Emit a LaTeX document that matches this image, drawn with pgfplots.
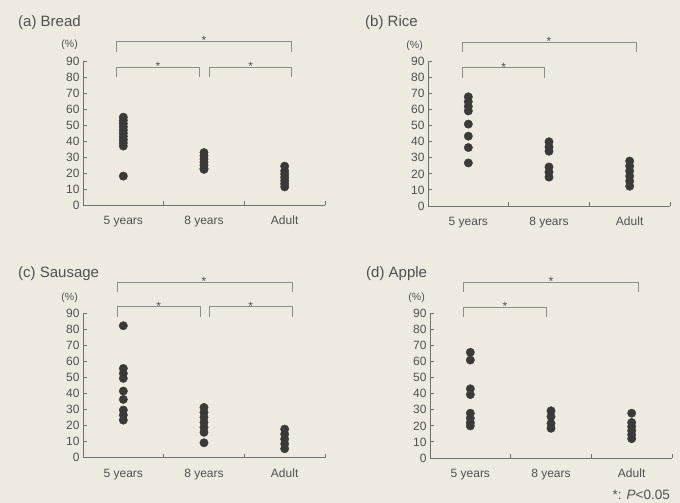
\documentclass[border=0pt]{standalone}
\usepackage{fontspec}
\setmainfont{Liberation Sans}
\usepackage{pgfplots}
\pgfplotsset{compat=1.18}
\definecolor{bg}{HTML}{EEEAE0}
\definecolor{txt}{HTML}{505050}
\definecolor{dot}{HTML}{3A3A3A}
\definecolor{ax}{HTML}{707070}
\definecolor{br}{HTML}{8C8C8C}
\pgfplotsset{panel/.style={
  scale only axis, width=242pt, height=144.5pt,
  xmin=0, xmax=3, ymin=0, ymax=90,
  axis x line=bottom, axis y line=left,
  axis line style={ax, line width=0.9pt, -},
  clip=false,
  xtick={1,2,3}, xticklabels={},
  extra x ticks={0.5,1.5,2.5}, extra x tick labels={5 years,8 years,Adult},
  extra x tick style={major tick length=0pt, tick label style={text height=1.6ex, text depth=0.5ex, yshift=-7.5pt}},
  ytick={0,10,...,90}, major tick length=4pt, tick align=inside,
  tick style={ax, line width=0.9pt},
  ticklabel style={font=\fontsize{12}{12}\selectfont, text=txt},
  /pgf/number format/assume math mode=true,
  anchor=south west,
},
dots/.style={only marks, mark=*, mark size=4.2pt, color=dot, mark options={draw=dot, fill=dot}},
}
\tikzset{
brk/.style={br, line width=1pt},
ast/.style={text=txt, font=\fontsize{12}{12}\selectfont, inner sep=0pt, anchor=base, yshift=-3.5pt},
pct/.style={anchor=east, font=\fontsize{10.5}{10.5}\selectfont, text=txt, inner sep=1pt, xshift=-4pt},
ttl/.style={anchor=west, font=\fontsize{15}{15}\selectfont, text=txt, inner sep=0pt}
}
\begin{document}
\begin{tikzpicture}
\fill[bg] (0,0) rectangle (680pt,503pt);
% (a) Bread
\begin{axis}[panel, at={(83pt,297.5pt)}]
\addplot[dots] coordinates {(0.5,55) (0.5,53) (0.5,51) (0.5,49) (0.5,47) (0.5,45) (0.5,43) (0.5,41) (0.5,39) (0.5,37) (0.5,18.3)};
\addplot[dots] coordinates {(1.5,33) (1.5,31) (1.5,29) (1.5,27) (1.5,25) (1.5,23) (1.5,22.5)};
\addplot[dots] coordinates {(2.5,24.5) (2.5,21.5) (2.5,19.5) (2.5,17.5) (2.5,15.5) (2.5,13.5) (2.5,11.6)};
\draw[brk] (axis cs:0.42,95.6) -- (axis cs:0.42,102.4) -- (axis cs:2.59,102.4) -- (axis cs:2.59,95.6);
\draw[brk] (axis cs:0.42,80) -- (axis cs:0.42,86.2) -- (axis cs:1.45,86.2) -- (axis cs:1.45,80);
\draw[brk] (axis cs:1.57,80) -- (axis cs:1.57,86.2) -- (axis cs:2.59,86.2) -- (axis cs:2.59,80);
\node[ast] at (axis cs:1.5,102.4) {*};
\node[ast] at (axis cs:0.93,86.2) {*};
\node[ast] at (axis cs:2.08,86.2) {*};
\node[pct] at (axis cs:0,100) {(\%)};
\end{axis}
% (b) Rice
\begin{axis}[panel, at={(428pt,297pt)}]
\addplot[dots] coordinates {(0.5,68) (0.5,65) (0.5,62) (0.5,59.2) (0.5,51) (0.5,43.5) (0.5,36.4) (0.5,26.8)};
\addplot[dots] coordinates {(1.5,40) (1.5,36.8) (1.5,34.1) (1.5,24.3) (1.5,21.1) (1.5,18)};
\addplot[dots] coordinates {(2.5,28) (2.5,24.9) (2.5,21.8) (2.5,18.6) (2.5,15.5) (2.5,12.3)};
\draw[brk] (axis cs:0.43,96) -- (axis cs:0.43,102) -- (axis cs:2.59,102) -- (axis cs:2.59,96);
\draw[brk] (axis cs:0.43,80) -- (axis cs:0.43,86.2) -- (axis cs:1.45,86.2) -- (axis cs:1.45,80);
\node[ast] at (axis cs:1.5,102) {*};
\node[ast] at (axis cs:0.94,86.2) {*};
\node[pct] at (axis cs:0,100) {(\%)};
\end{axis}
% (c) Sausage
\begin{axis}[panel, at={(83pt,45.3pt)}]
\addplot[dots] coordinates {(0.5,82.2) (0.5,55.6) (0.5,52.5) (0.5,49.4) (0.5,41.5) (0.5,36.3) (0.5,29.7) (0.5,26.6) (0.5,23.4)};
\addplot[dots] coordinates {(1.5,31.3) (1.5,28.2) (1.5,25.1) (1.5,22) (1.5,18.9) (1.5,15.8) (1.5,9.3)};
\addplot[dots] coordinates {(2.5,17.8) (2.5,14.7) (2.5,11.6) (2.5,8.6) (2.5,5.6)};
\draw[brk] (axis cs:0.43,103.2) -- (axis cs:0.43,109.4) -- (axis cs:2.6,109.4) -- (axis cs:2.6,103.2);
\draw[brk] (axis cs:0.43,87.7) -- (axis cs:0.43,93.9) -- (axis cs:1.46,93.9) -- (axis cs:1.46,87.7);
\draw[brk] (axis cs:1.57,87.7) -- (axis cs:1.57,93.9) -- (axis cs:2.6,93.9) -- (axis cs:2.6,87.7);
\node[ast] at (axis cs:1.5,109.4) {*};
\node[ast] at (axis cs:0.94,93.9) {*};
\node[ast] at (axis cs:2.08,93.9) {*};
\node[pct] at (axis cs:0,99.5) {(\%)};
\end{axis}
% (d) Apple
\begin{axis}[panel, at={(430pt,45pt)}]
\addplot[dots] coordinates {(0.5,65.8) (0.5,61) (0.5,43.1) (0.5,39.5) (0.5,27.9) (0.5,24.8) (0.5,22) (0.5,20)};
\addplot[dots] coordinates {(1.5,29.4) (1.5,25.8) (1.5,21.5) (1.5,18.5)};
\addplot[dots] coordinates {(2.5,27.9) (2.5,22.1) (2.5,19.5) (2.5,17) (2.5,14.5) (2.5,12)};
\draw[brk] (axis cs:0.41,103.4) -- (axis cs:0.41,109.6) -- (axis cs:2.58,109.6) -- (axis cs:2.58,103.4);
\draw[brk] (axis cs:0.41,87.8) -- (axis cs:0.41,94) -- (axis cs:1.44,94) -- (axis cs:1.44,87.8);
\node[ast] at (axis cs:1.5,109.6) {*};
\node[ast] at (axis cs:0.93,94) {*};
\node[pct] at (axis cs:0,99.5) {(\%)};
\end{axis}
\node[ttl] at (18pt,480pt) {(a) Bread};
\node[ttl] at (365pt,480pt) {(b) Rice};
\node[ttl] at (18pt,229pt) {(c) Sausage};
\node[ttl] at (366pt,229pt) {(d) Apple};
\node[anchor=east, font=\fontsize{13.5}{13.5}\selectfont, text=txt, inner sep=0pt] at (670pt,8pt) {*: \textit{P}<0.05};
\pgfresetboundingbox
\path[use as bounding box] (0,0) rectangle (680pt,503pt);
\end{tikzpicture}
\end{document}
